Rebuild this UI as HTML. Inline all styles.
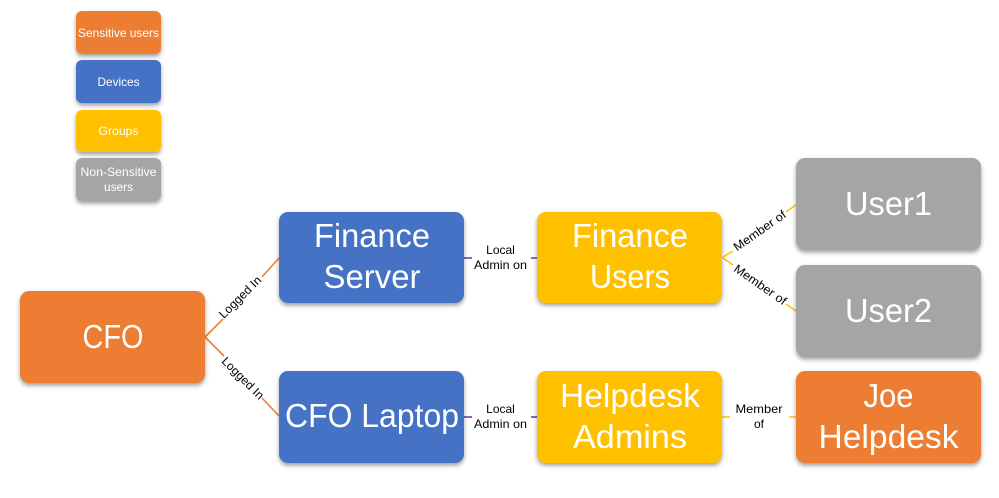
<!DOCTYPE html>
<html><head><meta charset="utf-8"><style>
html,body{margin:0;padding:0;background:#fff}
svg{display:block}
text{font-family:"Liberation Sans",sans-serif;text-anchor:middle}
.b{fill:#fff;font-size:33px}
.l{fill:#fff;font-size:12px}
.s{fill:#000;font-size:12px}
</style></head><body>
<svg width="999" height="498" viewBox="0 0 999 498" xmlns="http://www.w3.org/2000/svg">
<defs><filter id="sh" x="-15%" y="-15%" width="130%" height="135%"><feDropShadow dx="0" dy="2.5" stdDeviation="2" flood-color="#000" flood-opacity=".38"/></filter></defs>
<g fill="none" stroke-width="1.6">
<g stroke="#ed7d31"><path d="M205 337L223 319M262 277L279 258M205 337L224 356M262 398L279 416"/></g>
<g stroke="#7030a0"><path d="M464 258H472M531 258H537M464 417H472M531 417H537"/></g>
<g stroke="#ffc000"><path d="M723 257L733 251M786 212L796 205M723 258L733 265M786 304L796 311M722 417H730M789 417H796"/></g>
</g>
<g filter="url(#sh)">
<rect x="76" y="11" width="85" height="43" rx="6" fill="#ed7d31"/>
<rect x="76" y="60" width="85" height="43" rx="6" fill="#4472c4"/>
<rect x="76" y="110" width="85" height="42" rx="6" fill="#ffc000"/>
<rect x="76" y="158" width="85" height="43" rx="6" fill="#a5a5a5"/>
<rect x="20" y="291" width="185" height="92" rx="9" fill="#ed7d31"/>
<rect x="279" y="212" width="185" height="91" rx="9" fill="#4472c4"/>
<rect x="279" y="371" width="185" height="92" rx="9" fill="#4472c4"/>
<rect x="537" y="212" width="185" height="91" rx="9" fill="#ffc000"/>
<rect x="537" y="371" width="185" height="92" rx="9" fill="#ffc000"/>
<rect x="796" y="158" width="185" height="92" rx="9" fill="#a5a5a5"/>
<rect x="796" y="265" width="185" height="92" rx="9" fill="#a5a5a5"/>
<rect x="796" y="371" width="185" height="92" rx="9" fill="#ed7d31"/>
</g>
<text class="l" x="118.500" y="37" textLength="81" lengthAdjust="spacingAndGlyphs">Sensitive users</text>
<text class="l" x="118.500" y="86" textLength="42" lengthAdjust="spacingAndGlyphs">Devices</text>
<text class="l" x="118.500" y="135" textLength="40" lengthAdjust="spacingAndGlyphs">Groups</text>
<text class="l" x="118.500" y="176" textLength="76" lengthAdjust="spacingAndGlyphs">Non-Sensitive</text>
<text class="l" x="118.500" y="191" textLength="29" lengthAdjust="spacingAndGlyphs">users</text>
<text class="b" x="113" y="348" textLength="61" lengthAdjust="spacingAndGlyphs">CFO</text>
<text class="b" x="372" y="247" textLength="116" lengthAdjust="spacingAndGlyphs">Finance</text>
<text class="b" x="372" y="288" textLength="97" lengthAdjust="spacingAndGlyphs">Server</text>
<text class="b" x="372" y="427" textLength="174" lengthAdjust="spacingAndGlyphs">CFO Laptop</text>
<text class="b" x="630" y="247" textLength="116" lengthAdjust="spacingAndGlyphs">Finance</text>
<text class="b" x="630" y="288" textLength="80" lengthAdjust="spacingAndGlyphs">Users</text>
<text class="b" x="630" y="407" textLength="140" lengthAdjust="spacingAndGlyphs">Helpdesk</text>
<text class="b" x="630" y="448" textLength="114" lengthAdjust="spacingAndGlyphs">Admins</text>
<text class="b" x="888.500" y="215" textLength="87" lengthAdjust="spacingAndGlyphs">User1</text>
<text class="b" x="888.500" y="322" textLength="87" lengthAdjust="spacingAndGlyphs">User2</text>
<text class="b" x="888.500" y="407" textLength="50" lengthAdjust="spacingAndGlyphs">Joe</text>
<text class="b" x="888.500" y="448" textLength="140" lengthAdjust="spacingAndGlyphs">Helpdesk</text>
<text class="s" x="500.500" y="254">Local</text>
<text class="s" x="500.500" y="269" textLength="53" lengthAdjust="spacingAndGlyphs">Admin on</text>
<text class="s" x="500.500" y="413">Local</text>
<text class="s" x="500.500" y="428" textLength="53" lengthAdjust="spacingAndGlyphs">Admin on</text>
<text class="s" x="759" y="413" textLength="47" lengthAdjust="spacingAndGlyphs">Member</text>
<text class="s" x="759" y="428">of</text>
<text class="s" transform="translate(243 300) rotate(-45)" textLength="54" lengthAdjust="spacingAndGlyphs">Logged In</text>
<text class="s" transform="translate(240 381) rotate(45)" textLength="54" lengthAdjust="spacingAndGlyphs">Logged In</text>
<text class="s" transform="translate(762 234) rotate(-35)" textLength="61" lengthAdjust="spacingAndGlyphs">Member of</text>
<text class="s" transform="translate(758 288) rotate(35)" textLength="61" lengthAdjust="spacingAndGlyphs">Member of</text>
</svg>
</body></html>
